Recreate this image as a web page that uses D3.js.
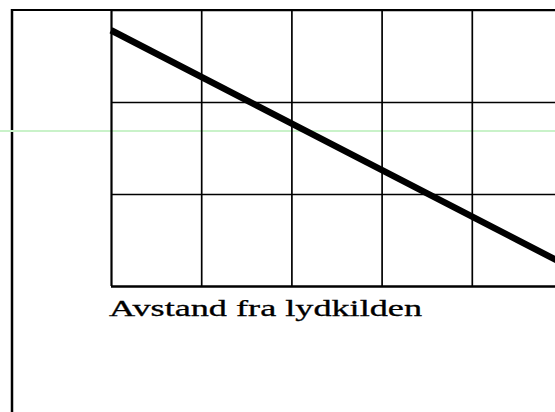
<!DOCTYPE html>
<html>
<head>
<meta charset="utf-8">
<script src="https://cdn.jsdelivr.net/npm/d3@7"></script>
<style>
  html, body { margin: 0; padding: 0; background: #fff; }
  svg { display: block; }
</style>
</head>
<body>
<svg id="chart" width="555" height="412"></svg>
<script>
// Grid divisions along distance (x) and level (y)
const xTicks = [0, 1, 2, 3, 4, 5];
const yTicks = [0, 1, 2, 3];

// Sound level falling off with distance from the source
const distance = [0, 5];
const level = [2.78, 0.25];

const axisLabel = "Avstand fra lydkilden";

const W = 555, H = 412;
const svg = d3.select("#chart");

const x = d3.scaleLinear().domain([0, 5]).range([111, 562]);
const y = d3.scaleLinear().domain([0, 3]).range([286, 10]);

// Outer frame: left and top edges
svg.append("line")
  .attr("x1", 12).attr("x2", 12).attr("y1", 9).attr("y2", H)
  .attr("stroke", "#000").attr("stroke-width", 2.5);
svg.append("line")
  .attr("x1", 11).attr("x2", W).attr("y1", 10).attr("y2", 10)
  .attr("stroke", "#000").attr("stroke-width", 2);

// Faint horizontal guide
svg.append("line")
  .attr("x1", 0).attr("x2", W).attr("y1", 131).attr("y2", 131)
  .attr("stroke", "#c9f2c9").attr("stroke-width", 2);

// Grid via axes with full-length ticks
const gx = svg.append("g")
  .attr("transform", `translate(0,${y(0)})`)
  .call(d3.axisBottom(x).tickValues(xTicks).tickSize(-(y(0) - y(3))).tickFormat(""));
gx.select(".domain").remove();
gx.selectAll(".tick line")
  .attr("stroke", "#000")
  .attr("stroke-width", (d) => d === 0 ? 2.2 : 1.7);

const gy = svg.append("g")
  .attr("transform", `translate(${x(0)},0)`)
  .call(d3.axisLeft(y).tickValues(yTicks).tickSize(-(W - x(0))).tickFormat(""));
gy.select(".domain").remove();
gy.selectAll(".tick line")
  .attr("stroke", "#000")
  .attr("stroke-width", (d) => d === 0 ? 2.4 : 1.7);

// Level line
const pts = distance.map((d, i) => [d, level[i]]);
svg.append("path")
  .datum(pts)
  .attr("d", d3.line().x(d => x(d[0])).y(d => y(d[1])))
  .attr("fill", "none")
  .attr("stroke", "#000")
  .attr("stroke-width", 6.5);

// Axis caption
svg.append("text")
  .attr("x", 109).attr("y", 316)
  .attr("font-family", "'Liberation Serif', 'Times New Roman', serif")
  .attr("font-size", 23)
  .attr("stroke", "#000")
  .attr("stroke-width", 0.3)
  .attr("textLength", 313)
  .attr("lengthAdjust", "spacingAndGlyphs")
  .attr("fill", "#000")
  .text(axisLabel);
</script>
</body>
</html>
